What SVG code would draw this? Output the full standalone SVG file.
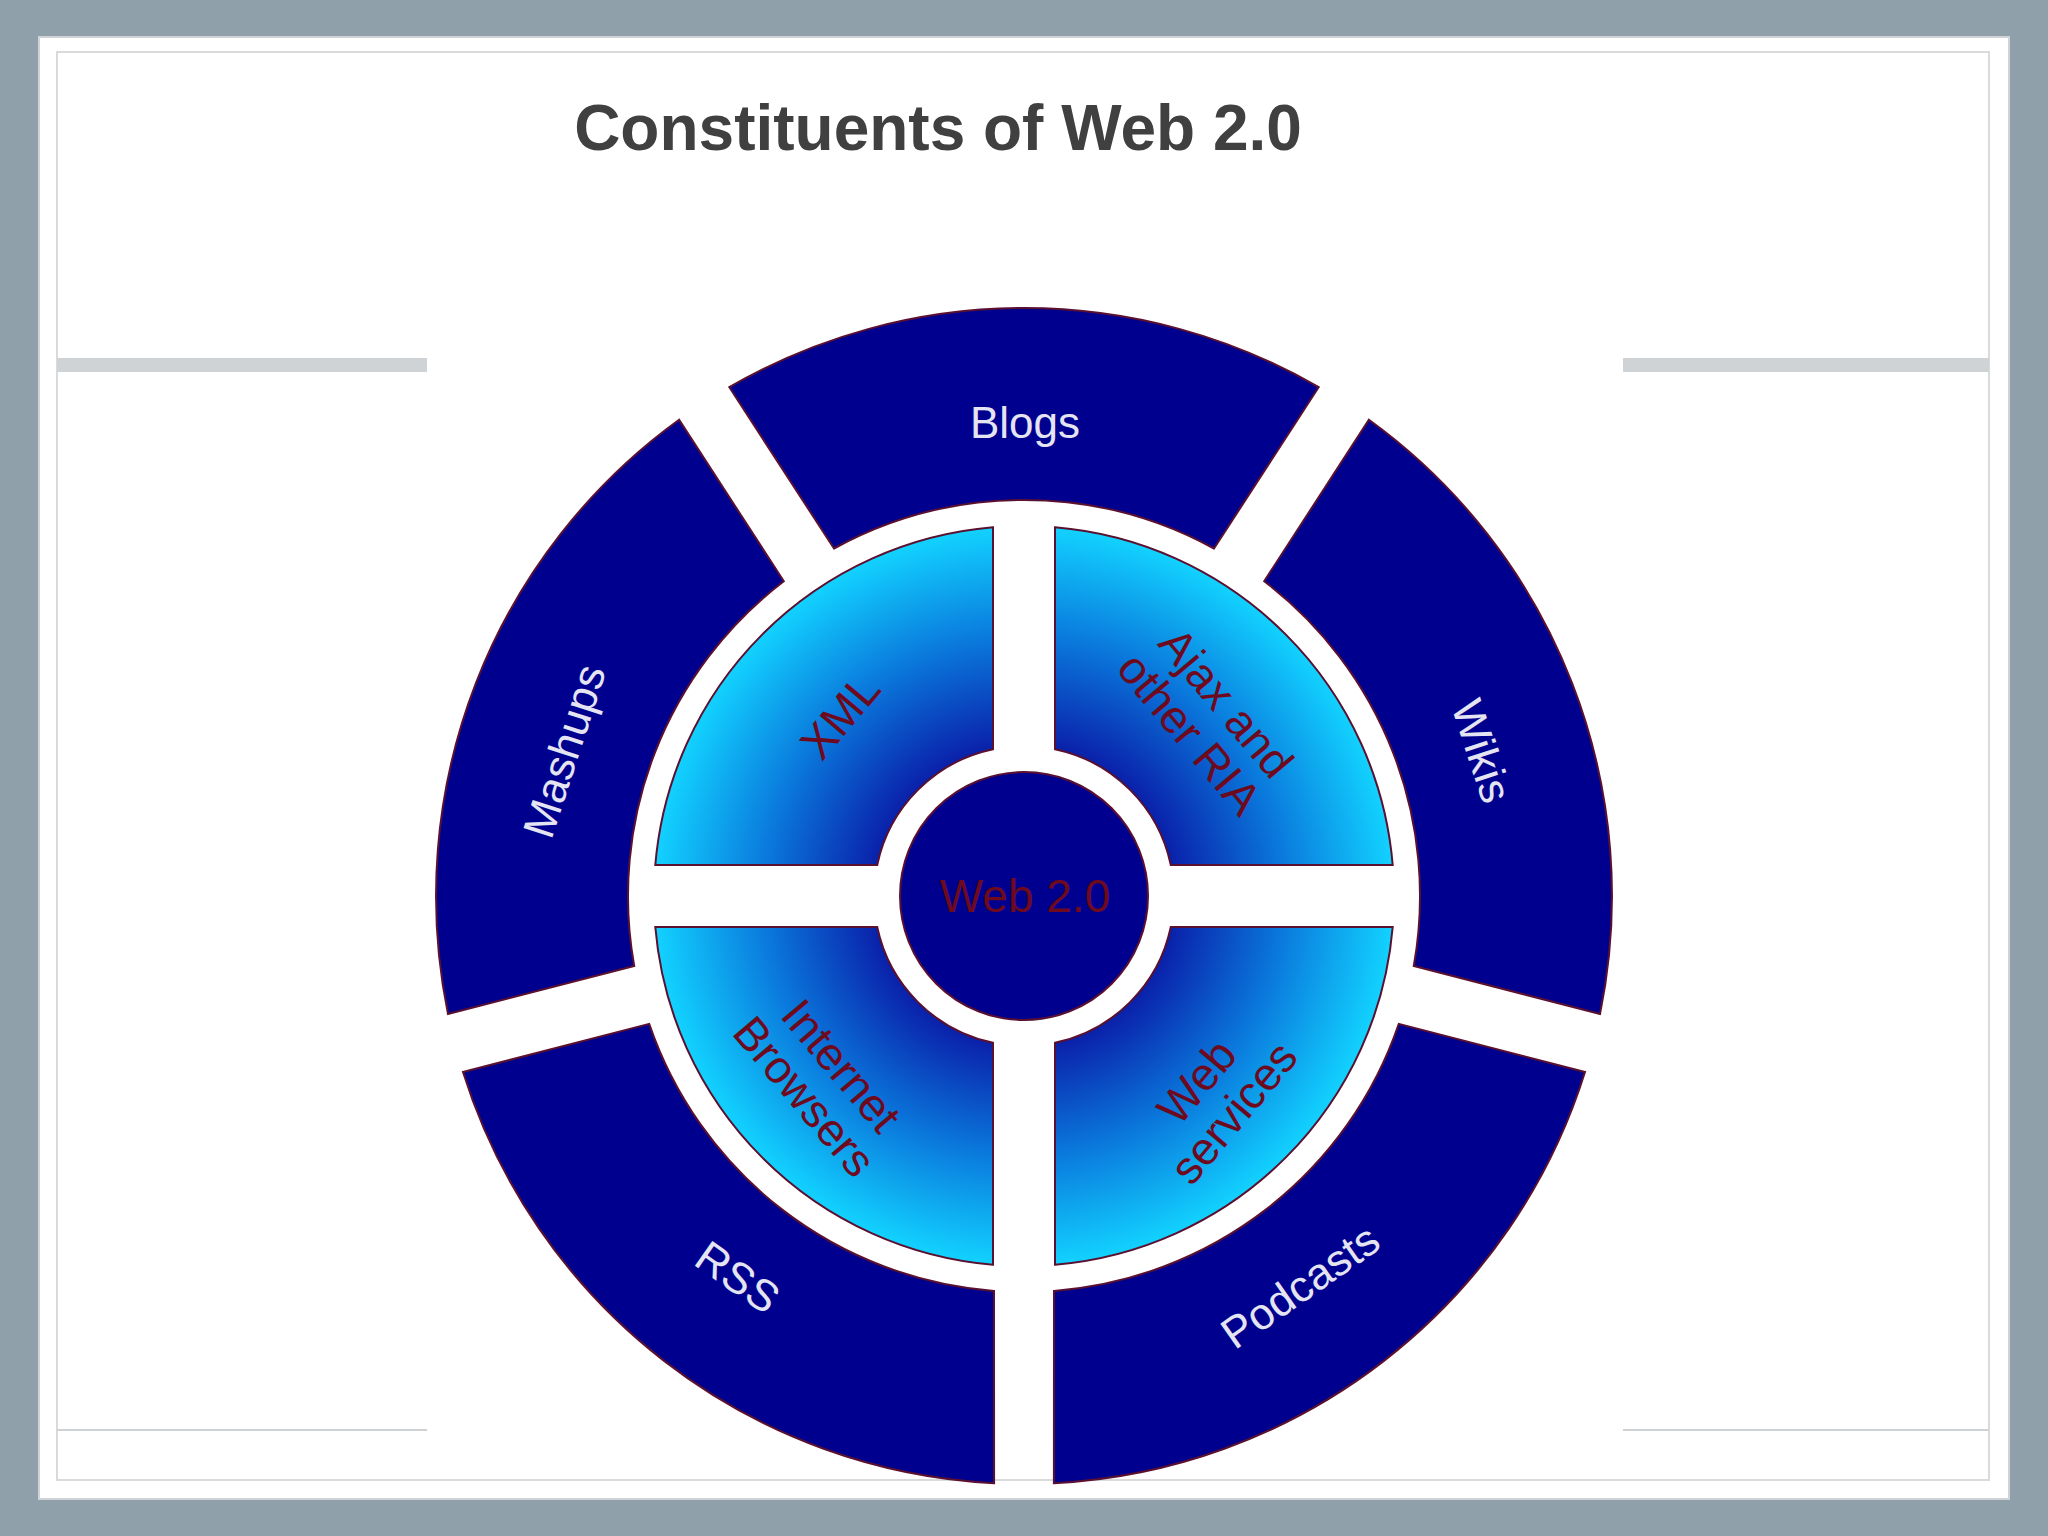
<svg xmlns="http://www.w3.org/2000/svg" width="2048" height="1536" viewBox="0 0 2048 1536">
<defs>
<radialGradient id="qg" gradientUnits="userSpaceOnUse" cx="1024" cy="896" r="370">
<stop offset="0.35" stop-color="#0a10a0"/>
<stop offset="0.7" stop-color="#0a78dc"/>
<stop offset="1" stop-color="#12d2ff"/>
</radialGradient>
<style>
.seg{fill:#00008e;stroke:#5a1030;stroke-width:2}
.q{fill:url(#qg);stroke:#5a1030;stroke-width:2}
.ol{font-family:"Liberation Sans",Arial,sans-serif;font-size:44px;fill:#e4e4f2;text-anchor:middle;dominant-baseline:central}
.ql{font-family:"Liberation Sans",Arial,sans-serif;font-size:46px;fill:#6e0a1e;text-anchor:middle}
</style>
</defs>
<rect width="2048" height="1536" fill="#8fa0ab"/>
<rect x="39" y="37" width="1970" height="1462" fill="#ffffff" stroke="#d0d4d8" stroke-width="2"/>
<rect x="57" y="52" width="1932" height="1428" fill="none" stroke="#d8dadc" stroke-width="2"/>
<rect x="57" y="358" width="370" height="14" fill="#d0d3d5"/>
<rect x="1623" y="358" width="366" height="14" fill="#d0d3d5"/>
<line x1="57" y1="1430" x2="427" y2="1430" stroke="#cfd2d4" stroke-width="2"/>
<line x1="1623" y1="1430" x2="1989" y2="1430" stroke="#cfd2d4" stroke-width="2"/>
<text x="938" y="150" font-family="Liberation Sans,Arial,sans-serif" font-weight="bold" font-size="64" fill="#404040" text-anchor="middle">Constituents of Web 2.0</text>
<g id="outer-blogs"><path class="seg" d="M729.3 387.2 A588 588 0 0 1 1318.7 387.2 L1214 548.5 A396 396 0 0 0 834 548.5 Z"/><text class="ol" x="1025" y="422">Blogs</text></g>
<g id="outer-wikis"><path class="seg" d="M1368.9 419.8 A588 588 0 0 1 1600 1014 L1413.8 965.9 A396 396 0 0 0 1264.2 581.2 Z"/><text class="ol" transform="translate(1482 751) rotate(72)">Wikis</text></g>
<g id="outer-podcasts"><path class="seg" d="M1585 1072 A588 588 0 0 1 1053.9 1483.2 L1054 1290.9 A396 396 0 0 0 1398.8 1023.9 Z"/><text class="ol" transform="translate(1300 1286) rotate(-35)">Podcasts</text></g>
<g id="outer-rss"><path class="seg" d="M994.1 1483.2 A588 588 0 0 1 463 1072 L649.2 1023.9 A396 396 0 0 0 994 1290.9 Z"/><text class="ol" transform="translate(738 1277) rotate(35)">RSS</text></g>
<g id="outer-mashups"><path class="seg" d="M448 1014 A588 588 0 0 1 679.1 419.8 L783.8 581.2 A396 396 0 0 0 634.2 965.9 Z"/><text class="ol" transform="translate(564 751) rotate(-72)">Mashups</text></g>
<g id="q-xml"><path class="q" d="M655.3 865 A370 370 0 0 1 993 527.3 L993 749.2 A150 150 0 0 0 877.2 865 Z"/><text class="ql" transform="translate(840 716) rotate(-50)" dominant-baseline="central">XML</text></g>
<g id="q-ajax"><path class="q" d="M1055 527.3 A370 370 0 0 1 1392.7 865 L1170.8 865 A150 150 0 0 0 1055 749.2 Z"/><text class="ql" transform="translate(1208 718) rotate(50)"><tspan x="0" y="-8">Ajax and</tspan><tspan x="0" y="40">other RIA</tspan></text></g>
<g id="q-browsers"><path class="q" d="M993 1264.7 A370 370 0 0 1 655.3 927 L877.2 927 A150 150 0 0 0 993 1042.8 Z"/><text class="ql" transform="translate(823 1081) rotate(50)"><tspan x="0" y="-8">Internet</tspan><tspan x="0" y="40">Browsers</tspan></text></g>
<g id="q-webservices"><path class="q" d="M1392.7 927 A370 370 0 0 1 1055 1264.7 L1055 1042.8 A150 150 0 0 0 1170.8 927 Z"/><text class="ql" transform="translate(1215 1097) rotate(-50)"><tspan x="0" y="-8">Web</tspan><tspan x="0" y="40">services</tspan></text></g>
<g id="center"><circle cx="1024" cy="896" r="124" fill="#00008e" stroke="#5a1030" stroke-width="2"/><text class="ql" x="1025" y="896" dominant-baseline="central">Web 2.0</text></g>
<g id="connectors"/>
</svg>
